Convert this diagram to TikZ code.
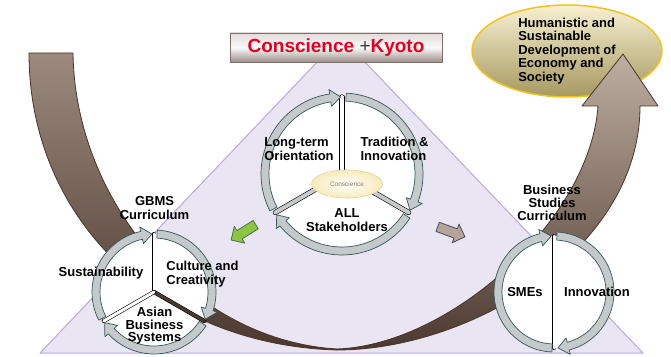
\documentclass[tikz,border=0pt]{standalone}
\usepackage{fontspec}
\setmainfont{Liberation Sans}
\usetikzlibrary{shapes.geometric,shapes.arrows}
\definecolor{lavender}{HTML}{EAE5F2}
\definecolor{lavedge}{HTML}{B9AAD8}
\definecolor{bandedge}{HTML}{4A3428}
\definecolor{bandtop}{HTML}{9C8A7F}
\definecolor{bandlow}{HTML}{4B382E}
\definecolor{bandhead}{HTML}{BFAEA2}
\definecolor{ringgray}{HTML}{C6C9C9}
\definecolor{ringedge}{HTML}{2E5A5C}
\definecolor{kyotored}{HTML}{E60020}
\definecolor{goalgold}{HTML}{F2C31B}
\definecolor{goaltop}{HTML}{F7F1D2}
\definecolor{goallow}{HTML}{A69860}
\definecolor{titletop}{HTML}{E2DCDA}
\definecolor{titlelow}{HTML}{9D8E88}
\definecolor{titleedge}{HTML}{7E6F6A}
\definecolor{coreedge}{HTML}{E2D39C}
\definecolor{coreout}{HTML}{F7EBBB}
\definecolor{coretext}{HTML}{8C7B62}
\definecolor{arrowgreen}{HTML}{8CC63E}
\definecolor{greenedge}{HTML}{4F6A5A}
\definecolor{arrowtan}{HTML}{B5A598}
\definecolor{tanedge}{HTML}{4A4A66}
\newcommand{\ringarc}[4]{%
	\pgfmathsetmacro{\ringout}{#2+4}%
	\pgfmathsetmacro{\ringin}{#2-4}%
	\pgfmathsetmacro{\headout}{#2+8.5}%
	\pgfmathsetmacro{\headin}{#2-8.5}%
	\pgfmathsetmacro{\headang}{#4+600/#2}%
	\begin{scope}[shift={(#1)}]
		\filldraw[ringarrow] (#3:\ringout) arc[start angle=#3, end angle=\headang, radius=\ringout]
			-- (\headang:\headout) -- (#4:#2) -- (\headang:\headin) -- (\headang:\ringin)
			arc[start angle=\headang, end angle=#3, radius=\ringin] -- cycle;
	\end{scope}}
\begin{document}
\begin{tikzpicture}[x=1pt, y=1pt, line join=round, line cap=round,
	lbl/.style={font=\bfseries\fontsize{13}{14}\selectfont, align=center, inner sep=0pt},
	ringarrow/.style={fill=ringgray, draw=ringedge, line width=0.7pt},
	divider/.style={draw=black, line width=0.6pt, double=white, double distance=3pt},
	smallarrow/.style={single arrow, line width=0.8pt, minimum height=29pt, inner xsep=0pt, inner ysep=4.5pt, single arrow head extend=5pt}]
	\useasboundingbox (0,0) rectangle (671,356);
	\path (342,182) coordinate (csc)
		(154,64) coordinate (gbms)
		(554,64) coordinate (bsc);
	
	\filldraw[fill=lavender, draw=lavedge, line width=1pt] (40,3) -- (341,319) -- (643,3) -- cycle;
	\node[ellipse, draw=goalgold, line width=1.5pt, top color=goaltop, bottom color=goallow, minimum width=190pt, minimum height=92pt] (goal) at (567,305) {};
	
	\path[draw=bandedge, line width=0.8pt, top color=bandtop, bottom color=bandlow]
		(29,303) -- (73,303) .. controls (75,156) and (190,16) .. (337,7) -- (337,6)
		.. controls (160,11) and (29,136) .. (29,303) -- cycle;
	\path[draw=bandedge, line width=0.8pt, top color=bandhead, bottom color=bandlow]
		(337,7) .. controls (450,11) and (590,136) .. (598,250) -- (582,250) -- (623,302)
		-- (658,250) -- (640,250) .. controls (640,106) and (470,6) .. (337,6) -- cycle;
	
	\node[draw=titleedge, line width=0.6pt, minimum width=212pt, minimum height=29pt, top color=titletop, bottom color=titlelow, middle color=white!96!gray, text=kyotored, font=\bfseries\fontsize{19}{19}\selectfont] (title) at (336,308.5) {Conscience {\color{darkgray}\mdseries+}Kyoto};
	
	\fill[white] (csc) circle[radius=77];
	\draw[divider, double distance=4pt] (csc) -- ++(90:77);
	\draw[divider, double=ringgray, double distance=4pt] (csc) -- ++(-30:77);
	\draw[divider, double=ringgray, double distance=4pt] (csc) -- ++(210:77);
	\ringarc{csc}{77}{207}{91}
	\ringarc{csc}{77}{87}{-28}
	\ringarc{csc}{77}{-33}{-148}
	\node[ellipse, draw=coreedge, line width=0.6pt, inner color=white, outer color=coreout, minimum width=71pt, minimum height=28pt, inner sep=0pt, text=coretext, font=\fontsize{6.5}{7}\selectfont] (core) at (347,172) {Conscience};
	
	\fill[white] (gbms) circle[radius=58];
	\draw[divider] (gbms) -- ++(90:58);
	\draw[divider, double=bandlow] (gbms) -- ++(-30:58);
	\draw[divider] (gbms) -- ++(210:58);
	\ringarc{gbms}{58}{207}{92}
	\ringarc{gbms}{58}{87}{-28}
	\ringarc{gbms}{58}{-33}{-148}
	
	\fill[white] (bsc) circle[radius=56];
	\draw[divider] (bsc) ++(0,-56) -- ++(0,112);
	\ringarc{bsc}{56}{268}{93}
	\ringarc{bsc}{56}{87}{-86}
	
	\node[lbl, align=left, font=\bfseries\fontsize{13}{13.5}\selectfont] (goaltext) at (567,305) {Humanistic and\\Sustainable\\Development of\\Economy and\\Society};
	\node[lbl, align=left] (longterm) at (299,207) {Long-term\\Orientation};
	\node[lbl, align=left] (tradition) at (394.5,207) {Tradition \&\\Innovation};
	\node[lbl] (stake) at (347,136) {ALL\\Stakeholders};
	\node[lbl] (gbmscur) at (154.5,147.5) {GBMS\\Curriculum};
	\node[lbl] (sust) at (101,83) {Sustainability};
	\node[lbl, align=left] (culture) at (202.5,82) {Culture and\\Creativity};
	\node[lbl, font=\bfseries\fontsize{13}{12.5}\selectfont] (asian) at (154.5,30) {Asian\\Business\\Systems};
	\node[lbl, font=\bfseries\fontsize{13}{13}\selectfont] (bscur) at (552,153) {Business\\Studies\\Curriculum};
	\node[lbl] (smes) at (525,64) {SMEs};
	\node[lbl] (innov) at (597,64) {Innovation};
	
	\node[smallarrow, draw=greenedge, fill=arrowgreen, rotate=212] (togbms) at (245.5,125) {};
	\node[smallarrow, draw=tanedge, fill=arrowtan, rotate=-20] (tobsc) at (449,125) {};
\end{tikzpicture}
\end{document}
